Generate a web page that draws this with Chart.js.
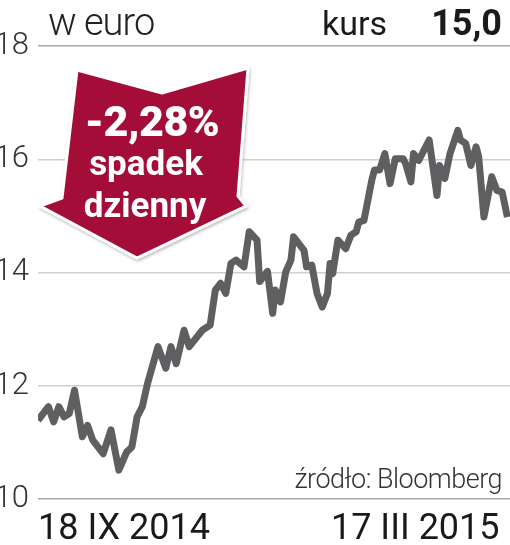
<!DOCTYPE html>
<html>
<head>
<meta charset="utf-8">
<script src="https://cdn.jsdelivr.net/npm/chart.js@4.4.1/dist/chart.umd.min.js"></script>
<style>
    body{
        margin:0;
        background:#fff;
    }
    #wrap{
        position:relative;
        width:510px;
        height:545px;
    }
    #over{
        position:absolute;
        left:0;
        top:0;
        pointer-events:none;
    }
</style>
</head>
<body>
<div id="wrap">
    <canvas id="chartjs" width="510" height="545"></canvas>
    <svg id="over" width="510" height="545" xmlns="http://www.w3.org/2000/svg">
        <defs>
            <filter id="cien" x="-10%" y="-10%" width="130%" height="130%">
                <feDropShadow dx="1" dy="2" stdDeviation="1.5" flood-color="#000" flood-opacity="0.25"/>
            </filter>
        </defs>
        <text x="48" y="35" font-family="Roboto" font-weight="300" font-size="38" letter-spacing="-1" fill="#222">w euro</text>
        <text x="322" y="35" font-family="Roboto" font-weight="400" font-size="34" fill="#1a1a1a">kurs</text>
        <text x="502" y="35" text-anchor="end" font-family="Roboto" font-weight="700" font-size="36" fill="#1a1a1a">15,0</text>
        <text x="502" y="488" text-anchor="end" font-family="Roboto" font-weight="300" font-size="27" letter-spacing="-0.5" fill="#333">źródło: Bloomberg</text>

        <polygon points="77,70 162,93 248,68 238,196 246,206 137,258 40,206 62,198"
                 fill="#a30f38" stroke="#fff" stroke-width="3" stroke-linejoin="round" filter="url(#cien)"/>
        <text x="152" y="136" text-anchor="middle" font-family="Roboto" font-weight="900" font-size="43" letter-spacing="-0.5" fill="#fff">-2,28%</text>
        <text x="146" y="175" text-anchor="middle" font-family="Roboto" font-weight="700" font-size="35" fill="#fff">spadek</text>
        <text x="145" y="217" text-anchor="middle" font-family="Roboto" font-weight="700" font-size="35" fill="#fff">dzienny</text>
    </svg>
</div>

<script>
// dni kalendarzowe od 18 IX 2014 i kurs w euro
var dni    = [0, 4, 6, 8, 10, 12, 14, 17, 19, 21, 25, 28, 31, 34, 36, 38, 40, 42, 46, 49,
              51, 53, 56, 58, 63, 66, 68, 70, 72, 74, 76, 79, 81, 84, 85, 88, 90, 91, 93, 95,
              97, 98, 102, 103, 105, 107, 109, 111, 112, 113, 115, 118, 120, 122, 123, 125, 128, 129, 131, 133,
              135, 137, 140, 141, 143, 144, 146, 150, 153, 154, 156, 158, 161, 162, 164, 166, 168, 169, 171, 174,
              176, 178, 180];
var kurs   = [11.39, 11.63, 11.36, 11.63, 11.45, 11.51, 11.92, 11.10, 11.30, 11.04, 10.80, 11.22, 10.51, 10.83, 10.92, 11.45, 11.63, 12.04, 12.69, 12.31,
              12.69, 12.39, 12.98, 12.69, 12.98, 13.07, 13.69, 13.81, 13.63, 14.16, 14.22, 14.10, 14.72, 14.57, 13.84, 14.02, 13.28, 13.69, 13.48, 14.01,
              14.22, 14.63, 14.39, 14.10, 14.13, 13.63, 13.39, 13.63, 14.16, 13.98, 14.57, 14.42, 14.66, 14.72, 14.89, 14.92, 15.63, 15.81, 15.81, 16.10,
              15.57, 16.01, 16.01, 15.92, 15.60, 16.10, 15.98, 16.34, 15.36, 15.89, 15.66, 16.10, 16.51, 16.34, 16.28, 15.89, 16.22, 16.04, 14.98, 15.69,
              15.45, 15.42, 14.98];
var osX_dni    = [0, 177];
var osX_etykiety = ['18 IX 2014', '17 III 2015'];
var osY_ticki  = [10, 12, 14, 16, 18];

var punkty = new Array();
for (var i in dni) {
    punkty.push({x: dni[i], y: kurs[i]});
}

var graph = new Chart(document.getElementById('chartjs'), {
    type: 'line',
    data: {
        datasets: [{
            data: punkty,
            borderColor: '#5f5f61',
            borderWidth: 7,
            borderJoinStyle: 'round',
            borderCapStyle: 'butt',
            pointRadius: 0,
            fill: false,
            tension: 0
        }]
    },
    options: {
        responsive: false,
        animation: false,
        layout: {padding: {top: 46, right: 0, bottom: 0, left: 0}},
        plugins: {legend: {display: false}, tooltip: {enabled: false}},
        scales: {
            x: {
                type: 'linear',
                min: 0,
                max: 181,
                grid: {display: false},
                border: {display: false},
                afterBuildTicks: function(scale){
                    scale.ticks = osX_dni.map(function(d){ return {value: d}; });
                },
                afterFit: function(scale){
                    scale.height = 46;
                },
                ticks: {
                    align: 'inner',
                    maxRotation: 0,
                    autoSkip: false,
                    padding: 1,
                    color: '#1a1a1a',
                    font: {family: 'Roboto', size: 36, lineHeight: 1.2},
                    callback: function(v){
                        return osX_etykiety[osX_dni.indexOf(v)];
                    }
                }
            },
            y: {
                min: 10,
                max: 18,
                afterBuildTicks: function(scale){
                    scale.ticks = osY_ticki.map(function(t){ return {value: t}; });
                },
                afterFit: function(scale){
                    scale.width = 38;
                },
                border: {display: false},
                grid: {
                    drawTicks: false,
                    lineWidth: 1.5,
                    color: function(ctx){
                        if (ctx.tick && (ctx.tick.value == 18 || ctx.tick.value == 10)) return '#a9a9a9';
                        return '#d0d0d0';
                    }
                },
                ticks: {
                    padding: 9,
                    color: '#333',
                    font: {family: 'Roboto', size: 31, weight: 300}
                }
            }
        }
    }
});
</script>
</body>
</html>
